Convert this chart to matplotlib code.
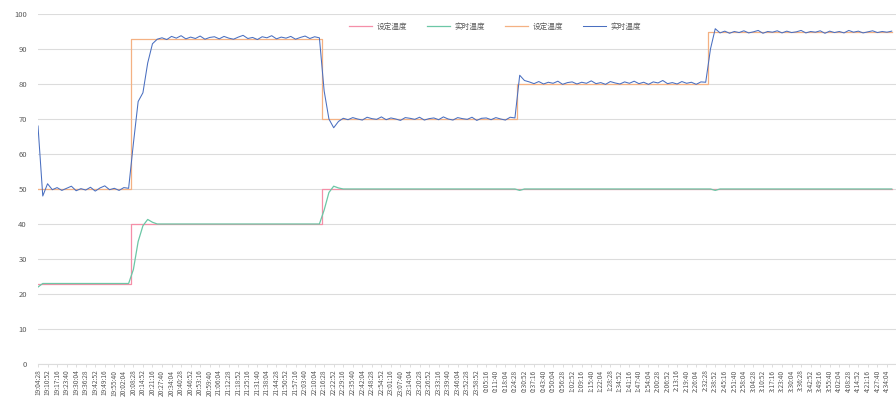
import matplotlib
matplotlib.use("Agg")
import matplotlib.pyplot as plt
import numpy as np
from datetime import datetime, timedelta

plt.rcParams['font.family'] = ['Noto Sans CJK SC', 'DejaVu Sans']

# ---- data (one sample per time step) ----
set_temp_1 = [23] * 20 + [40] * 40 + [50] * 120
real_temp_1 = ([22] + [23] * 19 + [27, 35, 39.5, 41.3, 40.5] + [40] * 35 +
               [44, 49, 50.8, 50.3] + [50] * 37 + [49.6] + [50] * 40 + [49.6] + [50] * 37)
set_temp_2 = [50] * 20 + [93] * 40 + [70] * 41 + [80] * 40 + [95] * 39
real_temp_2 = ([68, 48] +
               [51.5, 49.8, 50.4, 49.6, 50.2, 50.8, 49.5, 50.1, 49.7, 50.5, 49.4, 50.3, 50.9, 49.8, 50.2, 49.6, 50.4] +
               [50.2, 63, 75, 77.5, 86, 91.5, 92.8] +
               [93.2, 92.7, 93.6, 93.1, 93.8, 92.9, 93.4, 93.0, 93.7, 92.8, 93.3, 93.5, 92.9, 93.6, 93.1, 92.8,
                93.4, 93.9, 93.0, 93.3, 92.7, 93.5, 93.2, 93.8, 92.9, 93.4, 93.1, 93.6, 92.8, 93.3, 93.7, 93.0, 93.5] +
               [93.2, 78, 70, 67.5, 69.3] +
               [70.2, 69.8, 70.4, 70.0, 69.7, 70.5, 70.1, 69.9, 70.6, 69.8, 70.3, 70.0, 69.6, 70.4, 70.2, 69.9,
                70.5, 69.7, 70.1, 70.3, 69.8, 70.6, 70.0, 69.7, 70.4, 70.1, 69.9, 70.5, 69.6, 70.2, 70.3, 69.8,
                70.4, 70.0, 69.7, 70.5] +
               [70.3, 82.5, 81] +
               [80.6, 80.1, 80.7, 80.0, 80.5, 80.2, 80.8, 79.9, 80.4, 80.6, 80.0, 80.5, 80.2, 80.9, 80.1, 80.4,
                79.9, 80.7, 80.3, 80.0, 80.6, 80.2, 80.8, 80.1, 80.5, 79.9, 80.6, 80.3, 81.0, 80.1, 80.4, 80.0,
                80.7, 80.2, 80.5, 79.9, 80.6] +
               [80.5, 90, 95.8] +
               [94.6, 95.1, 94.5, 95.0, 94.7, 95.2, 94.6, 94.9, 95.3, 94.5, 95.0, 94.8, 95.2, 94.6, 95.1, 94.7,
                94.9, 95.3, 94.6, 95.0, 94.8, 95.2, 94.5, 95.1, 94.7, 95.0, 94.6, 95.3, 94.8, 95.1, 94.6, 94.9,
                95.2, 94.7, 95.0, 94.8, 95.1])

series_names = ['设定温度', '实时温度', '设定温度', '实时温度']
y_ticks = [0, 10, 20, 30, 40, 50, 60, 70, 80, 90, 100]

# time labels, one every 2 samples
label_start = datetime(2020, 1, 1, 19, 4, 28)
label_step_seconds = 384
n_labels = 90
label_times = [label_start + timedelta(seconds=k * label_step_seconds) for k in range(n_labels)]
time_labels = [f"{t.hour}:{t.minute:02d}:{t.second:02d}" for t in label_times]

# ---- figure ----
W, H = 896, 401
fig = plt.figure(figsize=(W / 100, H / 100), dpi=100)
ax = fig.add_axes([38 / W, 37 / H, (W - 38) / W, 350 / H])

colors = ['#f58fa8', '#6cc7a6', '#f4b183', '#4a6fc0']

x1 = np.arange(len(set_temp_1))
x2 = np.arange(len(real_temp_1))
x3 = np.arange(len(set_temp_2))
x4 = np.arange(len(real_temp_2))

l1, = ax.plot(x1, set_temp_1, color=colors[0], lw=0.9, drawstyle='steps-mid', zorder=2)
l2, = ax.plot(x2, real_temp_1, color=colors[1], lw=0.9, zorder=3)
l3, = ax.plot(x3, set_temp_2, color=colors[2], lw=0.9, drawstyle='steps-mid', zorder=2)
l4, = ax.plot(x4, real_temp_2, color=colors[3], lw=0.75, zorder=3)

ax.set_ylim(0, 100)
ax.set_xlim(0, 179.9)
ax.set_yticks(y_ticks)
ax.set_yticklabels([str(v) for v in y_ticks], fontsize=5.5, color='#595959')
ax.set_xticks(np.arange(0, 2 * n_labels, 2))
ax.set_xticklabels(time_labels, rotation=90, fontsize=4.8, color='#595959')
ax.tick_params(axis='y', length=0, pad=8)
ax.tick_params(axis='x', length=2, width=0.5, color='#d0d0d0', pad=2)
ax.grid(axis='y', color='#dcdcdc', lw=0.8)
ax.set_axisbelow(True)
for s in ['top', 'right', 'left']:
    ax.spines[s].set_visible(False)
ax.spines['bottom'].set_color('#dcdcdc')
ax.spines['bottom'].set_linewidth(0.8)

leg = fig.legend([l1, l2, l3, l4], series_names, loc='center', bbox_to_anchor=(495 / W, 1 - 27 / H),
                 ncol=4, frameon=False, fontsize=5.5, handlelength=3.0, columnspacing=2.6,
                 handletextpad=0.6)
for t in leg.get_texts():
    t.set_color('#595959')

fig.savefig('out.png', dpi=100, facecolor='white')
